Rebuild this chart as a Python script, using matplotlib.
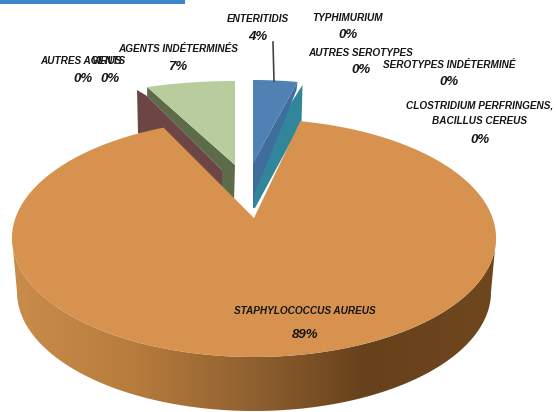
import numpy as np
import matplotlib
matplotlib.use('Agg')
import matplotlib.pyplot as plt
from matplotlib.colors import LinearSegmentedColormap
from matplotlib.patches import Polygon, Rectangle

# donnees du camembert
labels = ['Enteritidis', 'Typhimurium', 'Autres serotypes', 'Serotypes indéterminé',
          'Clostridium perfringens,\nBacillus cereus', 'Staphylococcus aureus',
          'Autres agents', 'Virus', 'Agents indéterminés']
values = [4, 0, 0, 0, 0, 89, 0, 0, 7]

# position du nom et du pourcentage de chaque etiquette
label_x = [258, 348, 361, 449, 480, 305, 83, 106, 178]
name_y = [19, 18, 53, 65, 113, 311, 61, 61, 49]
pct_x = [258, 348, 361, 449, 480, 305, 83, 110, 178]
pct_y = [37, 35, 70, 82, 140, 335, 79, 79, 67]

plt.rcParams['font.family'] = ['Liberation Sans', 'DejaVu Sans']

fig = plt.figure(figsize=(5.57, 4.12), dpi=100)
ax = fig.add_axes([0, 0, 1, 1])
ax.set_xlim(0, 557)
ax.set_ylim(412, 0)
ax.axis('off')

# perspective : les petites parts paraissent plus etroites
k = 0.871
blue_span = values[0] * 3.6 * k
green_span = values[8] * 3.6 * k
cx, cy, rx, ry = 254, 238, 242, 119
depth = 54


def arc(x0, y0, a, b, t0, t1, n=200):
    t = np.radians(np.linspace(t0, t1, n))
    return np.column_stack([x0 + a * np.sin(t), y0 - b * np.cos(t)])


def poly(points, color, z):
    ax.add_patch(Polygon(points, closed=True, fc=color, ec='none', zorder=z))


# bandeau bleu en haut
ax.add_patch(Rectangle((0, 0), 185, 4, fc='#3f85c9', ec='none'))

# part verte (agents indetermines)
ga = np.array([235, 165])
g_arc = arc(ga[0], ga[1], 235, 84, -green_span, 0, 40)
g_left = g_arc[0]
poly([g_left, ga, ga + (-1, 36), (222, 190), (222, 170), g_left + (0, 9)], '#5c6b4a', 2)
# paroi grenat (parts a 0%)
poly([(137, 90), g_left + (0, 9), (222, 170), (222, 190), (138, 133)], '#6b4644', 3)
poly(np.vstack([[ga], g_arc]), '#b9cc9d', 3)

# part bleue (enteritidis)
ba = np.array([253, 163])
b_arc = arc(ba[0], ba[1], 205, 83, 0, blue_span, 40)
b_right = b_arc[-1]
poly([ba, b_right + (5, 3), b_right + (4, 40), ba + (2, 45), ba + (0, 45)], '#31869b', 2)
poly([ba, b_right, b_right + (-1, 8), ba + (2, 30), ba + (0, 45)], '#3f6d9e', 2.5)
poly(np.vstack([[ba], b_arc]), '#4f81b4', 3)
# trait de rappel
ax.plot([273, 274], [42, 81], color='#444444', lw=1.2, zorder=5)

# part orange : paroi en degrade puis face superieure
o_start = blue_span - 1.5
o_end = 360 - green_span
top_front = arc(cx, cy, rx, ry, 90, 270)
bottom_front = arc(cx, cy + depth, rx - 5, ry, 270, 90)
wall = Polygon(np.vstack([top_front, bottom_front]), closed=True, fc='none', ec='none')
ax.add_patch(wall)
cmap = LinearSegmentedColormap.from_list('wall', [(0, '#c98c4b'), (0.25, '#b87c3c'),
                                                  (0.5, '#8f6030'), (0.73, '#67411b'),
                                                  (1, '#6f471f')])
im = ax.imshow(np.linspace(0, 1, 256)[None, :], cmap=cmap, aspect='auto',
               extent=(12, 496, 412, 230), zorder=4)
im.set_clip_path(wall)
ax.set_xlim(0, 557)
ax.set_ylim(412, 0)

apex = (254, 218)
poly(np.vstack([[apex], arc(cx, cy, rx, ry, o_start, o_end, 400)]), '#d6924e', 4.5)

# etiquettes : nom puis pourcentage, plus gros
for name, val, x, y, px, py in zip(labels, values, label_x, name_y, pct_x, pct_y):
    ax.text(x, y, name.upper(), ha='center', va='center', fontsize=7.2, fontweight='bold',
            fontstyle='italic', color='#151515', linespacing=1.75, zorder=6)
    ax.text(px, py, f'{val}%', ha='center', va='center', fontsize=9.5, fontweight='bold',
            fontstyle='italic', color='#151515', zorder=6)

fig.savefig('out.png', dpi=100)
